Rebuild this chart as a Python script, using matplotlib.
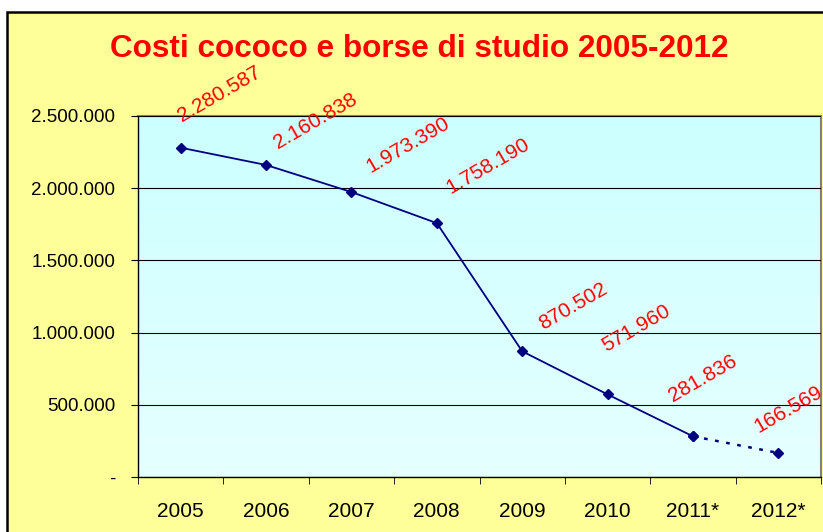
import matplotlib
matplotlib.use("Agg")
import matplotlib.pyplot as plt
import numpy as np
from matplotlib.patches import Rectangle
from matplotlib.ticker import FuncFormatter, FixedLocator
from matplotlib.colors import to_rgb

plt.rcParams['font.family'] = ['Liberation Sans', 'DejaVu Sans']

years = ['2005', '2006', '2007', '2008', '2009', '2010', '2011*', '2012*']
costs = [2280587, 2160838, 1973390, 1758190, 870502, 571960, 281836, 166569]
# label centre offsets in pixels (dx, dy) from each point
label_offsets = [(39, 54), (49, 44), (56, 47), (51, 57), (51, 45), (29, 66), (10, 58), (10, 44)]


def ita(v, pos=None):
    if v == 0:
        return '-'
    return '{:,.0f}'.format(v).replace(',', '.')


fig = plt.figure(figsize=(8.23, 5.32), dpi=100)
fig.patch.set_facecolor('white')

# chart area (yellow with black border)
fig.patches.append(Rectangle((7 / 823, -0.05), 1.0, (532 - 12) / 532 + 0.05,
                             transform=fig.transFigure, facecolor='#FFFF99',
                             edgecolor='black', linewidth=1.8, zorder=-5))

ax = fig.add_axes([138 / 823, 1 - 477 / 532, (821 - 138) / 823, (477 - 116) / 532])
ax.set_facecolor('none')
ax.set_zorder(1)

# plot area gradient
top = np.array(to_rgb('#CCFFFF'))
bot = np.array(to_rgb('#E6FFFF'))
grad = np.linspace(0, 1, 100)[:, None, None] * (bot - top) + top
ax.imshow(grad, extent=[0, 1, 0, 1], transform=ax.transAxes, aspect='auto', zorder=0)

x = np.arange(len(years))
ax.plot(x[:7], costs[:7], color='#000080', linewidth=1.3, marker='D', markersize=5, zorder=3)
ax.plot(x[6:], costs[6:], color='#000080', linewidth=1.8, linestyle=(0, (1.5, 3)), zorder=3)
ax.plot(x[6:], costs[6:], color='#000080', linestyle='none', marker='D', markersize=5, zorder=4)

for xi, v, (dx, dy) in zip(x, costs, label_offsets):
    ax.annotate(ita(v), (xi, v), xytext=(dx, dy), textcoords='offset pixels',
                ha='center', va='center', rotation=30, rotation_mode='anchor',
                color='red', fontsize=15, annotation_clip=False, zorder=5)

ax.set_xlim(-0.5, len(years) - 0.5)
ax.set_ylim(0, 2500000)
ax.set_yticks(np.arange(0, 2500001, 500000))
ax.yaxis.set_major_formatter(FuncFormatter(ita))
ax.grid(axis='y', color='black', linewidth=0.8, zorder=1)
ax.set_axisbelow(False)

ax.set_xticks(x)
ax.set_xticklabels(years)
ax.xaxis.set_minor_locator(FixedLocator(np.arange(-0.5, len(years), 1.0)))
ax.tick_params(axis='x', which='major', length=0, pad=18, labelsize=15)
ax.tick_params(axis='x', which='minor', length=5, direction='out', color='black')
ax.tick_params(axis='y', length=5, direction='out', pad=11.5, labelsize=13.5)

for s in ['left', 'bottom']:
    ax.spines[s].set_color('black')
    ax.spines[s].set_linewidth(1.0)
for s in ['top', 'right']:
    ax.spines[s].set_color('#808080')
    ax.spines[s].set_linewidth(1.5)

fig.text(419 / 823, 1 - 49 / 532, 'Costi cococo e borse di studio 2005-2012',
         ha='center', va='center', color='red', fontsize=22.7, fontweight='bold')

fig.savefig('out.png', dpi=100)
